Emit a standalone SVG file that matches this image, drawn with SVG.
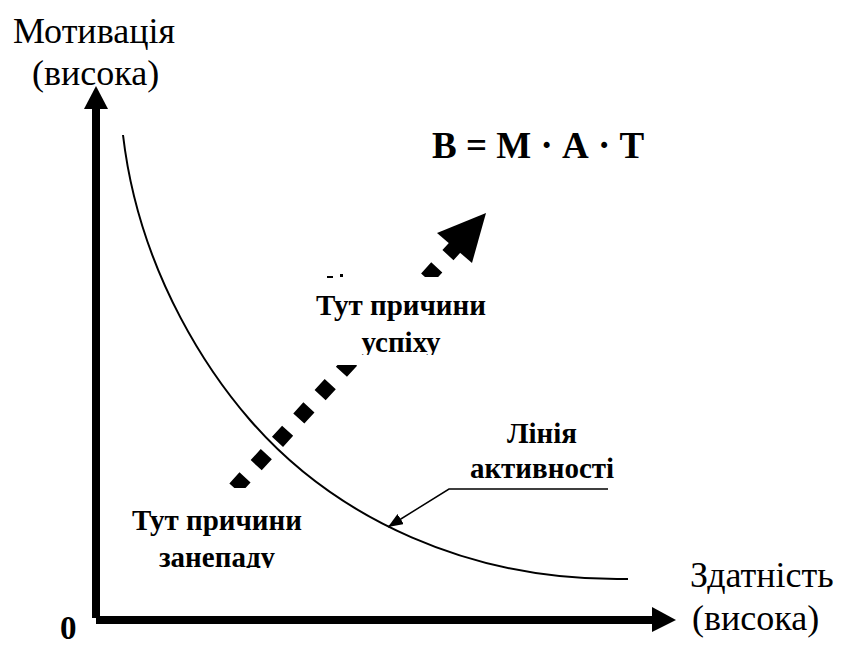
<svg xmlns="http://www.w3.org/2000/svg" width="845" height="646" viewBox="0 0 845 646" font-family="'Liberation Serif', 'Times New Roman', Times, serif">
<style>
text{font-family:'Liberation Serif','Times New Roman',Times,serif}
.lbl{font-size:36px;fill:#000}
.bl{font-size:29px;font-weight:bold;fill:#000;text-anchor:middle}
.thin{fill:none;stroke:#000;stroke-width:2}
</style>
<defs>
<marker id="ah" markerWidth="16" markerHeight="12" refX="15" refY="6" orient="auto" markerUnits="userSpaceOnUse">
<path d="M0,0 L15,6 L0,12 Z" fill="#000"/>
</marker>
<clipPath id="c1"><rect x="300" y="270" width="200" height="85"/></clipPath>
<clipPath id="c2"><rect x="110" y="490" width="220" height="78"/></clipPath>
</defs>
<rect width="845" height="646" fill="#fff"/>
<g id="axes">
<rect x="92" y="107" width="8" height="511" fill="#000"/>
<polygon points="84,109 96,86 108,109" fill="#000"/>
<rect x="96" y="616" width="558" height="8" fill="#000"/>
<polygon points="652,607 676,620 652,632" fill="#000"/>
</g>
<g id="curve">
<path class="thin" d="M123,135 C140,280 217,382 250,420 C335,518 470,582 628,579"/>
</g>
<g id="connectors">
<line x1="234.9" y1="488.5" x2="458.2" y2="243.9" stroke="#000" stroke-width="15" stroke-dasharray="15 16.6"/>
<polygon points="486,213 437,233 472,263" fill="#000"/>
<polyline points="608,489 449,489 388,527" fill="none" stroke="#000" stroke-width="1.5" marker-end="url(#ah)"/>
</g>
<g id="box-upper">
<rect x="300" y="277" width="200" height="88" fill="#fff"/>
<rect x="327" y="276" width="6" height="2" fill="#000"/>
<rect x="340" y="274" width="3" height="3" fill="#000"/>
<g clip-path="url(#c1)">
<text class="bl" x="401" y="315">Тут причини</text>
<text class="bl" x="401" y="352">успіху</text>
</g>
</g>
<g id="box-lower">
<rect x="112" y="488" width="188" height="82" fill="#fff"/>
<g clip-path="url(#c2)">
<text class="bl" x="217" y="530">Тут причини</text>
<text class="bl" x="217" y="567">занепаду</text>
</g>
</g>
<g id="activity-label">
<text class="bl" x="542" y="443">Лінія</text>
<text class="bl" x="542" y="478">активності</text>
</g>
<g id="formula">
<text x="432" y="158" font-size="37" font-weight="bold">В = М · А · Т</text>
</g>
<g id="y-label">
<text class="lbl" x="13" y="43">Мотивація</text>
<text class="lbl" x="32" y="85">(висока)</text>
</g>
<g id="x-label">
<text class="lbl" x="690" y="587">Здатність</text>
<text class="lbl" x="692" y="630">(висока)</text>
</g>
<g id="origin">
<text x="60" y="639" font-size="33" font-weight="bold">0</text>
</g>
</svg>
